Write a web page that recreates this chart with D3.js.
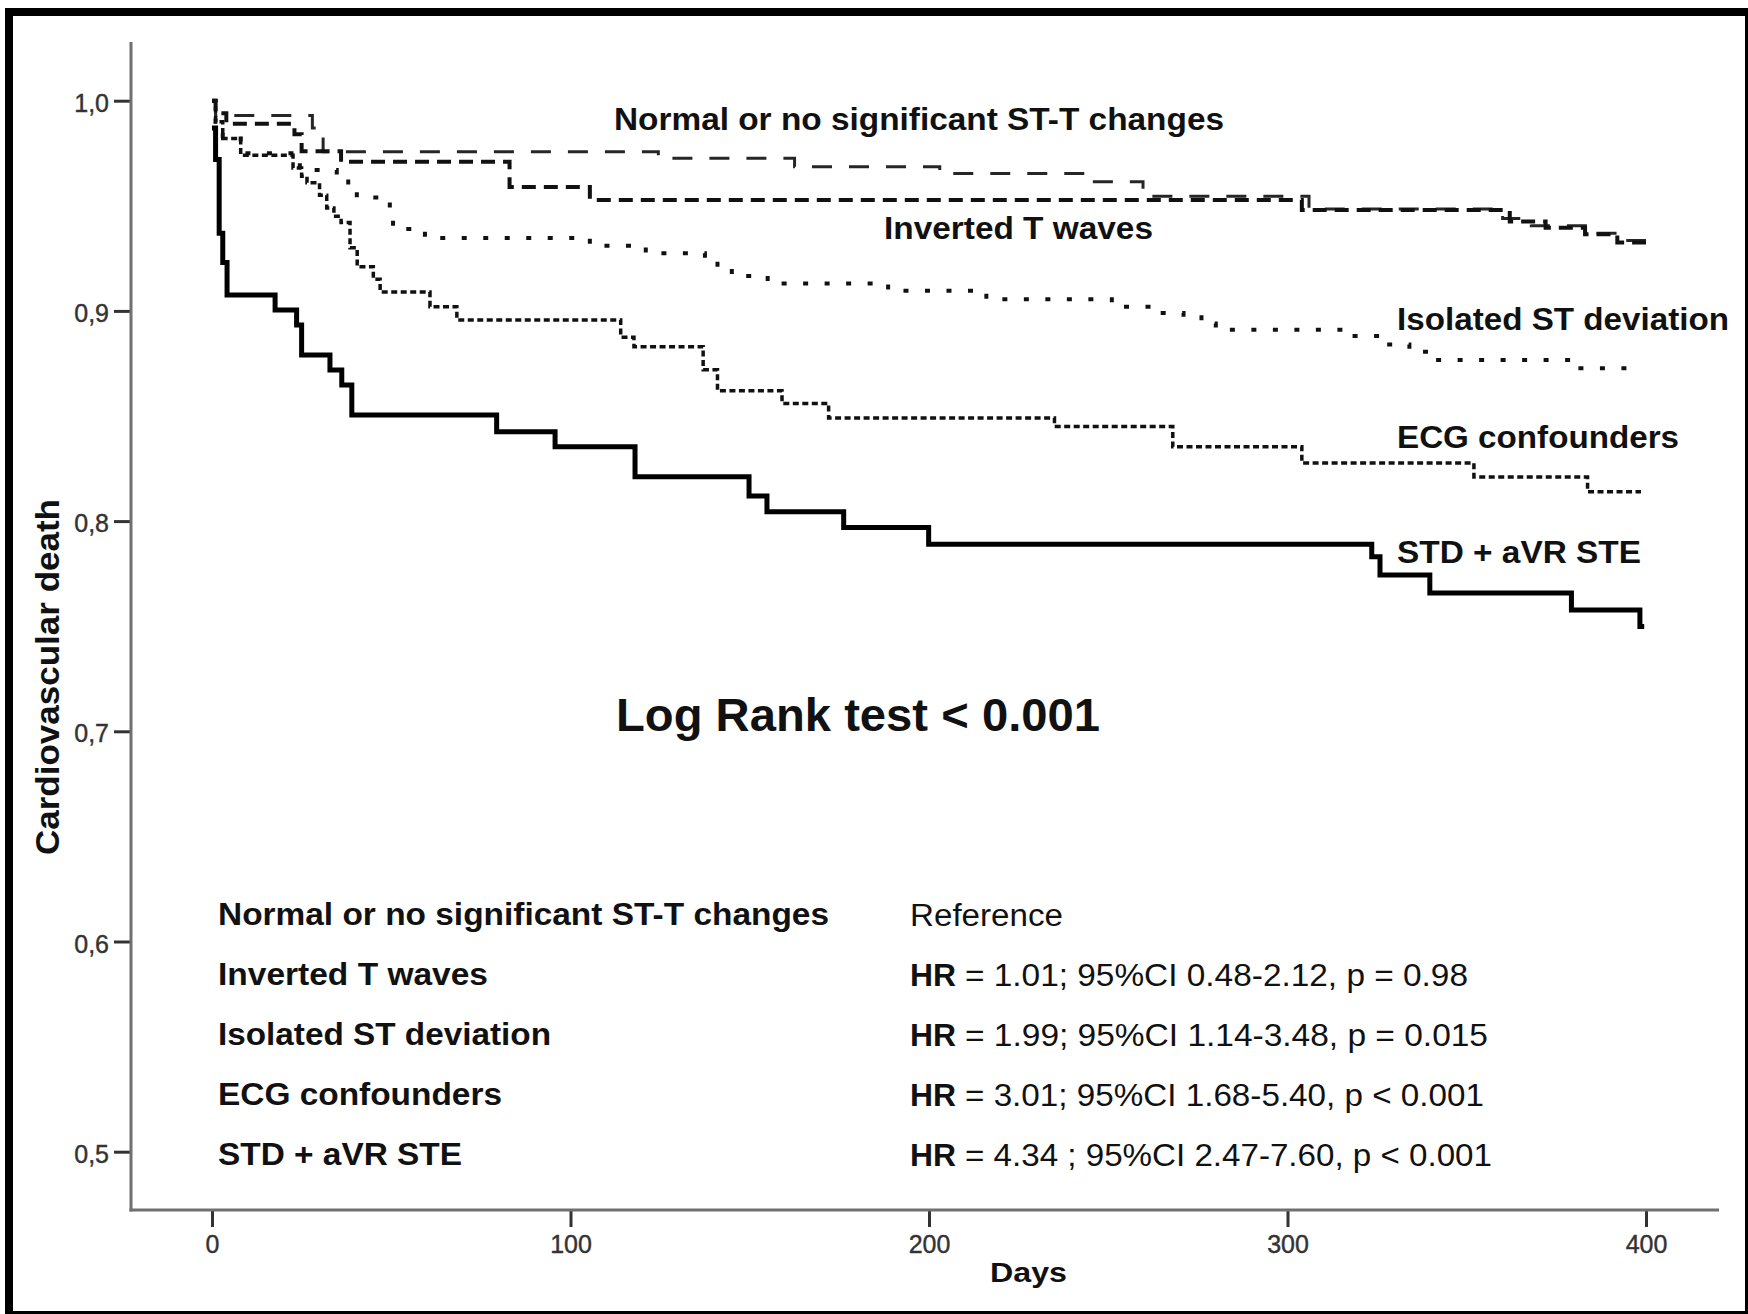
<!DOCTYPE html>
<html>
<head>
<meta charset="utf-8">
<script src="https://cdn.jsdelivr.net/npm/d3@7"></script>
<style>
  html, body { margin: 0; padding: 0; background: #fff; }
  svg { display: block; }
  text { font-family: "Liberation Sans", Arial, Helvetica, sans-serif; }
</style>
</head>
<body>
<svg id="chart" width="1748" height="1314"></svg>
<script>
// ---- Kaplan-Meier estimates (day of step, survival after the step) ----
const normalDays   = [0, 1, 28, 31, 124.5, 162.5, 203, 243.5, 259.7, 306, 360, 368, 385, 393, 400];
const normalSurv   = [1.0, 0.993, 0.987, 0.9757, 0.9726, 0.9686, 0.9654, 0.9614, 0.9545, 0.9485, 0.944, 0.9405, 0.937, 0.9335, 0.9335];

const invertedDays = [0, 1, 4, 23, 25, 36, 83, 105.4, 304, 362, 372, 383, 392, 400];
const invertedSurv = [1.0, 0.994, 0.989, 0.984, 0.976, 0.971, 0.959, 0.9528, 0.948, 0.9425, 0.9395, 0.9365, 0.9325, 0.9325];

const isolatedDays = [0, 1, 3, 8, 24.5, 34.8, 38, 40.4, 49.6, 50.5, 59.4, 105.4, 121, 137.5, 141, 145, 155, 188.6, 216, 251, 262, 271, 276, 280, 318, 327, 334, 341, 381, 396.4];
const isolatedSurv = [1.0, 0.99, 0.982, 0.975, 0.967, 0.9638, 0.96, 0.954, 0.947, 0.939, 0.9347, 0.931, 0.9274, 0.924, 0.920, 0.9166, 0.913, 0.9096, 0.9055, 0.902, 0.899, 0.897, 0.894, 0.891, 0.888, 0.884, 0.8806, 0.8766, 0.8727, 0.8727];

const ecgDays      = [0, 1, 3, 8, 22.6, 25, 26.5, 30, 32, 34, 36, 38.5, 40.5, 45, 46.9, 60.8, 68.3, 114, 117.7, 137, 141, 159, 172, 235, 268, 304, 352, 383.7, 398.6];
const ecgSurv      = [1.0, 0.99, 0.982, 0.974, 0.968, 0.964, 0.961, 0.955, 0.949, 0.945, 0.942, 0.930, 0.921, 0.915, 0.909, 0.902, 0.8957, 0.8875, 0.883, 0.872, 0.862, 0.856, 0.849, 0.845, 0.8354, 0.8276, 0.821, 0.814, 0.814];

const stdDays      = [0, 1, 2, 3, 4.2, 17.6, 23.6, 25, 32.9, 36.2, 39, 79.4, 95.7, 118, 149.8, 154.8, 176.2, 199.9, 323.5, 325.8, 339.7, 379.2, 398.3, 399.5];
const stdSurv      = [0.987, 0.972, 0.937, 0.923, 0.9076, 0.9004, 0.8933, 0.879, 0.8719, 0.8647, 0.8505, 0.8425, 0.8354, 0.8211, 0.812, 0.8045, 0.797, 0.789, 0.783, 0.7744, 0.7658, 0.7577, 0.7498, 0.7498];

const groupNames = ["Normal or no significant ST-T changes", "Inverted T waves", "Isolated ST deviation", "ECG confounders", "STD + aVR STE"];
const hrTexts    = ["Reference",
                    "= 1.01; 95%CI 0.48-2.12, p = 0.98",
                    "= 1.99; 95%CI 1.14-3.48, p = 0.015",
                    "= 3.01; 95%CI 1.68-5.40, p < 0.001",
                    "= 4.34 ; 95%CI 2.47-7.60, p < 0.001"];
const xTicks = [0, 100, 200, 300, 400];
const yTicks = [0.5, 0.6, 0.7, 0.8, 0.9, 1.0];
const testText = "Log Rank test < 0.001";

// ---- layout ----
const svg = d3.select("#chart");
const x = d3.scaleLinear().domain([0, 400]).range([212, 1646]);
const y = d3.scaleLinear().domain([0.5, 1.0]).range([1151.7, 100.7]);
const axisX = 131, axisY = 1210;

svg.append("rect").attr("width", 1748).attr("height", 1314).attr("fill", "#fff");

// outer frame
svg.append("rect")
  .attr("x", 9).attr("y", 12).attr("width", 1740).attr("height", 1303)
  .attr("fill", "none").attr("stroke", "#000").attr("stroke-width", 8);

// ---- axes ----
const yAxis = d3.axisLeft(y).tickValues(yTicks).tickSize(17).tickPadding(5)
  .tickFormat(d => d.toFixed(1).replace(".", ","));
const gy = svg.append("g").attr("transform", `translate(${axisX},0)`).call(yAxis);
gy.select(".domain").remove();
gy.selectAll(".tick line").attr("stroke", "#333").attr("stroke-width", 3);
gy.selectAll(".tick text").attr("font-size", 25).attr("fill", "#333")
  .attr("font-family", "Liberation Sans, Arial, sans-serif").attr("dy", "0.42em")
  .attr("stroke", "#333").attr("stroke-width", 0.4);

const xAxis = d3.axisBottom(x).tickValues(xTicks).tickSize(17).tickPadding(8)
  .tickFormat(d3.format("d"));
const gx = svg.append("g").attr("transform", `translate(0,${axisY})`).call(xAxis);
gx.select(".domain").remove();
gx.selectAll(".tick line").attr("stroke", "#333").attr("stroke-width", 3);
gx.selectAll(".tick text").attr("font-size", 25).attr("fill", "#333")
  .attr("font-family", "Liberation Sans, Arial, sans-serif")
  .attr("stroke", "#333").attr("stroke-width", 0.4);

// axis lines
svg.append("line").attr("x1", axisX).attr("x2", axisX).attr("y1", 42).attr("y2", axisY + 1.5)
  .attr("stroke", "#707070").attr("stroke-width", 3);
svg.append("line").attr("x1", axisX - 1.5).attr("x2", 1719).attr("y1", axisY).attr("y2", axisY)
  .attr("stroke", "#707070").attr("stroke-width", 3);

// axis titles
svg.append("text").attr("transform", "translate(59,677) rotate(-90)")
  .attr("text-anchor", "middle").attr("font-size", 34).attr("font-weight", "bold")
  .attr("fill", "#111").attr("textLength", 356).attr("lengthAdjust", "spacingAndGlyphs")
  .text("Cardiovascular death");
svg.append("text").attr("x", 990).attr("y", 1282)
  .attr("font-size", 28).attr("font-weight", "bold").attr("fill", "#111")
  .attr("textLength", 77).attr("lengthAdjust", "spacingAndGlyphs")
  .text("Days");

// ---- survival curves ----
const zipSeries = (days, surv) => days.map((d, i) => [d, surv[i]]);
const series = [
  zipSeries(normalDays, normalSurv),
  zipSeries(invertedDays, invertedSurv),
  zipSeries(isolatedDays, isolatedSurv),
  zipSeries(ecgDays, ecgSurv),
  zipSeries(stdDays, stdSurv)
];
const lineStyles = [
  { color: "#262626", width: 3,   dash: "20,17" },
  { color: "#111",    width: 4,   dash: "14,8" },
  { color: "#111",    width: 4,   dash: "5,16.5" },
  { color: "#111",    width: 3.5, dash: "6,3.5" },
  { color: "#000",    width: 5,   dash: null }
];
const line = d3.line().x(d => x(d[0])).y(d => y(d[1])).curve(d3.curveStepAfter);

svg.append("g").selectAll("path").data(series).join("path")
  .attr("d", line)
  .attr("fill", "none")
  .attr("stroke", (d, i) => lineStyles[i].color)
  .attr("stroke-width", (d, i) => lineStyles[i].width)
  .attr("stroke-dasharray", (d, i) => lineStyles[i].dash)
  .attr("stroke-linejoin", "miter");

// curve labels
const curveLabelPos = [
  { x: 614,  y: 130, len: 610 },
  { x: 884,  y: 239, len: 269 },
  { x: 1397, y: 330, len: 332 },
  { x: 1397, y: 448, len: 282 },
  { x: 1397, y: 563, len: 244 }
];
svg.append("g").selectAll("text").data(groupNames).join("text")
  .attr("x", (d, i) => curveLabelPos[i].x).attr("y", (d, i) => curveLabelPos[i].y)
  .attr("font-size", 32).attr("font-weight", "bold").attr("fill", "#111")
  .attr("textLength", (d, i) => curveLabelPos[i].len).attr("lengthAdjust", "spacingAndGlyphs")
  .text(d => d);

// log-rank result
svg.append("text").attr("x", 616).attr("y", 731)
  .attr("font-size", 47).attr("font-weight", "bold").attr("fill", "#111")
  .attr("textLength", 484).attr("lengthAdjust", "spacingAndGlyphs")
  .text(testText);

// hazard ratio table
const tableLeftLen = [611, 270, 333, 284, 244];
const tableRightLen = [153, 503, 523, 519, 527];
const rowBase = 925, rowStep = 60;
svg.append("g").selectAll("text").data(groupNames).join("text")
  .attr("x", 218).attr("y", (d, i) => rowBase + i * rowStep)
  .attr("font-size", 31).attr("font-weight", "bold").attr("fill", "#111")
  .attr("textLength", (d, i) => tableLeftLen[i]).attr("lengthAdjust", "spacingAndGlyphs")
  .text(d => d);

const right = svg.append("g");
hrTexts.forEach((t, i) => {
  const yy = rowBase + 1 + i * rowStep;
  if (i === 0) {
    right.append("text").attr("x", 910).attr("y", yy)
      .attr("font-size", 31).attr("fill", "#111")
      .attr("textLength", tableRightLen[i]).attr("lengthAdjust", "spacingAndGlyphs")
      .text(t);
  } else {
    right.append("text").attr("x", 910).attr("y", yy)
      .attr("font-size", 31).attr("font-weight", "bold").attr("fill", "#111")
      .attr("textLength", 46).attr("lengthAdjust", "spacingAndGlyphs")
      .text("HR");
    right.append("text").attr("x", 965).attr("y", yy)
      .attr("font-size", 31).attr("fill", "#111")
      .attr("textLength", tableRightLen[i]).attr("lengthAdjust", "spacingAndGlyphs")
      .text(t);
  }
});
</script>
</body>
</html>
